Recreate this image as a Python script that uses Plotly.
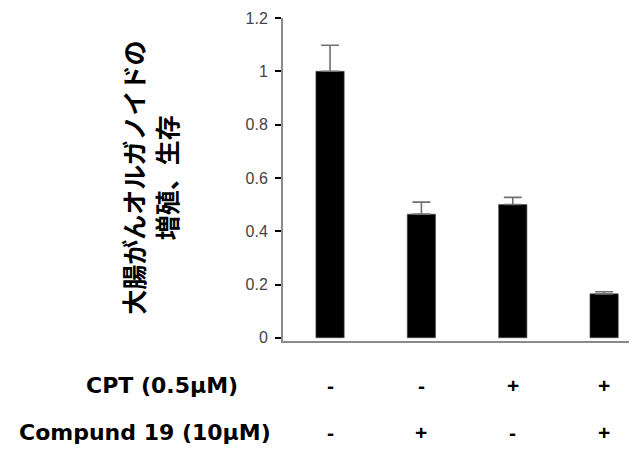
import plotly.graph_objects as go

# Data
groups = [0, 1, 2, 3]
values = [1.0, 0.464, 0.50, 0.165]
errors = [0.098, 0.045, 0.027, 0.008]
cpt_signs = ["-", "-", "+", "+"]
cmp_signs = ["-", "+", "-", "+"]
row_labels = ["CPT (0.5μM)", "Compund 19 (10μM)"]
y_tickvals = [0, 0.2, 0.4, 0.6, 0.8, 1.0, 1.2]
y_ticktext = ["0", "0.2", "0.4", "0.6", "0.8", "1", "1.2"]
y_title = "大腸がんオルガノイドの<br>増殖、生存"

fig = go.Figure()
fig.add_trace(go.Bar(
    x=groups, y=values, width=0.31,
    marker=dict(color="black", line=dict(color="#555", width=0.6)),
    error_y=dict(type="data", array=errors, symmetric=False, arrayminus=[0]*4,
                 color="#707070", thickness=1.6, width=9),
    showlegend=False,
))

# table annotations
row_y = [-0.139, -0.282]
label_x = [-0.342, -0.39]
bold_font = dict(family="DejaVu Sans, Liberation Sans, Arial", size=22, color="black")
for r, (lab, signs) in enumerate(zip(row_labels, [cpt_signs, cmp_signs])):
    fig.add_annotation(text="<b>%s</b>" % lab, xref="paper", yref="paper",
                       x=label_x[r], y=row_y[r], xanchor="center", yanchor="middle",
                       showarrow=False, font=bold_font)
    for g, s in zip(groups, signs):
        fig.add_annotation(text="<b>%s</b>" % s, xref="x", yref="paper",
                           x=g, y=row_y[r], xanchor="center", yanchor="middle",
                           showarrow=False,
                           font=dict(family="Liberation Sans, Arial", size=21, color="black"))

# y-axis title as rotated annotation
fig.add_annotation(text="<b>%s</b>" % y_title, xref="paper", yref="paper",
                   x=-0.376, y=0.505, xanchor="center", yanchor="middle",
                   textangle=-90, showarrow=False,
                   font=dict(family="Noto Sans CJK JP", size=25, color="black"))

fig.update_layout(
    width=629, height=442,
    margin=dict(l=275, r=0, t=10, b=109, autoexpand=False),
    plot_bgcolor="white", paper_bgcolor="white",
    xaxis=dict(range=[-0.515, 3.36], showticklabels=False, ticks="",
               showline=True, linecolor="#8a8a8a", linewidth=2,
               showgrid=False, zeroline=False, automargin=False),
    yaxis=dict(range=[-0.012, 1.2], tickvals=y_tickvals, ticktext=y_ticktext,
               ticks="outside", ticklen=6, tickwidth=2, tickcolor="black",
               showline=True, linecolor="#8a8a8a", linewidth=2,
               showgrid=False, zeroline=False, automargin=False,
               ticklabelstandoff=4,
               tickfont=dict(family="Liberation Sans, Arial", size=16, color="#444")),
)

fig.write_html("out.html")
